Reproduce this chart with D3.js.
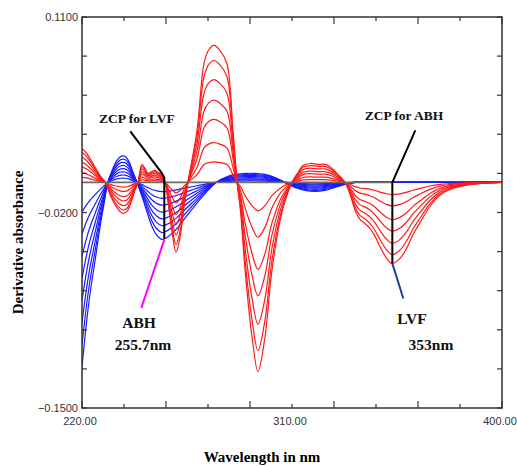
<!DOCTYPE html>
<html>
<head>
<meta charset="utf-8">
<script src="https://cdn.jsdelivr.net/npm/d3@7"></script>
<style>
  body { margin: 0; background: #fff; }
</style>
</head>
<body>
<svg id="chart" width="517" height="466"></svg>
<script>
// LVF (red) first derivative, strongest standard
const lvfNm = [220.0,221.7,223.4,225.6,227.7,229.9,232.0,234.1,236.3,237.6,239.3,241.0,242.7,244.0,245.7,247.0,248.3,250.0,251.3,252.6,253.9,254.7,255.7,256.9,258.6,260.3,262.0,263.7,265.4,269.3,272.3,274.4,276.6,279.1,282.1,284.7,286.5,288.0,289.9,292.9,295.4,298.4,301.4,305.7,310.0,312.6,314.7,317.7,321.1,324.1,326.7,329.7,332.7,334.0,335.7,337.4,339.1,341.3,343.4,345.6,347.7,350.3,352.9,356.3,359.3,361.9,364.9,369.1,373.4,377.7,384.1,390.6,400.0]
const lvfDA = [0.0226,0.0199,0.0160,0.0100,0.0047,0,-0.0080,-0.0146,-0.0193,-0.0206,-0.0193,-0.0133,-0.0053,0,0.0120,0.0093,0.0060,0.0073,0.0080,0.0066,0.0053,0.0027,0,-0.0133,-0.0332,-0.0465,-0.0366,-0.0166,0,0.0346,0.0791,0.0884,0.0911,0.0878,0.0791,0.0346,0,-0.0199,-0.0585,-0.1031,-0.1257,-0.1031,-0.0585,-0.0199,0,0.0066,0.0113,0.0126,0.0120,0.0120,0.0100,0.0053,0,-0.0040,-0.0120,-0.0199,-0.0246,-0.0273,-0.0306,-0.0359,-0.0426,-0.0499,-0.0539,-0.0505,-0.0432,-0.0346,-0.0266,-0.0160,-0.0086,-0.0047,-0.0020,-0.0007,0]
// relative amplitude of each LVF standard
const lvfLevels = [0.15, 0.29, 0.46, 0.60, 0.75, 0.89, 1.0]

// ABH (blue) first derivative, strongest standard
const abhNm = [220.0,221.7,223.4,225.6,227.7,229.4,231.1,232.9,235.0,236.7,238.4,240.1,241.9,243.6,245.7,247.9,250.0,252.1,254.3,256.4,258.6,261.1,264.1,267.1,270.6,274.0,277.4,281.3,285.6,289.9,294.1,298.4,302.7,307.0,311.3,315.6,319.9,324.1,328.4,332.7,337.0,350.0,400.0]
const abhDA = [-0.1230,-0.0964,-0.0745,-0.0519,-0.0299,-0.0146,0,0.0080,0.0146,0.0173,0.0173,0.0140,0.0066,0,-0.0093,-0.0199,-0.0293,-0.0352,-0.0379,-0.0366,-0.0339,-0.0299,-0.0239,-0.0180,-0.0113,-0.0053,0,0.0033,0.0053,0.0060,0.0060,0.0053,0.0033,0,-0.0033,-0.0053,-0.0060,-0.0053,-0.0033,-0.0013,0,0,0]
const abhLevels = [0.16, 0.28, 0.40, 0.52, 0.64, 0.76, 0.88, 1.0]

// axis ticks and labels
const xTicks = [220,238,256,274,292,310,328,346,364,382,400]
const xLabels = [220,310,400]
const yTicks = [0.11,0.084,0.058,0.032,0.006,-0.02,-0.046,-0.072,-0.098,-0.124,-0.15]
const yLabels = [0.11,-0.02,-0.15]

// zero crossing points
const zcpLVF = 255.7, abhAtZcp = -0.0375
const zcpABH = 353, lvfAtZcp = -0.0539

const svg = d3.select("#chart")
const pL = 82, pR = 502, pT = 17, pB = 408

const x = d3.scaleLinear().domain([220, 400]).range([pL, pR])
const y = d3.scaleLinear().domain([-0.15, 0.11]).range([pB, pT])

svg.append("defs").append("clipPath").attr("id", "clip")
  .append("rect").attr("x", pL).attr("y", pT)
  .attr("width", pR - pL).attr("height", pB - pT)

const line = d3.line()
  .x(d => x(d[0]))
  .y(d => y(d[1]))
  .curve(d3.curveCatmullRom.alpha(0.5))

const plot = svg.append("g").attr("clip-path", "url(#clip)")

// blue first, red on top
plot.selectAll("path.abh")
  .data(abhLevels)
  .enter()
  .append("path")
    .attr("class", "abh")
    .attr("d", k => line(abhNm.map((w, i) => [w, abhDA[i] * k])))
    .attr("fill", "none")
    .attr("stroke", "#1a1aff")
    .attr("stroke-width", 1.2)

plot.selectAll("path.lvf")
  .data(lvfLevels)
  .enter()
  .append("path")
    .attr("class", "lvf")
    .attr("d", k => line(lvfNm.map((w, i) => [w, lvfDA[i] * k])))
    .attr("fill", "none")
    .attr("stroke", "#ff1a1a")
    .attr("stroke-width", 1.2)

// zero line up to the ABH zero crossing
svg.append("line")
  .attr("x1", x(220)).attr("x2", x(zcpABH))
  .attr("y1", y(0)).attr("y2", y(0))
  .attr("stroke", "#6b6b6b").attr("stroke-width", 1.6)

// frame
svg.append("rect")
  .attr("x", pL).attr("y", pT)
  .attr("width", pR - pL).attr("height", pB - pT)
  .attr("fill", "none").attr("stroke", "#333").attr("stroke-width", 1.5)

// inward ticks
xTicks.forEach((t, i) => {
  const len = i % 2 ? 4 : 7
  svg.append("line").attr("x1", x(t)).attr("x2", x(t)).attr("y1", pB).attr("y2", pB - len)
    .attr("stroke", "#333").attr("stroke-width", 1.2)
  svg.append("line").attr("x1", x(t)).attr("x2", x(t)).attr("y1", pT).attr("y2", pT + len)
    .attr("stroke", "#333").attr("stroke-width", 1.2)
})
yTicks.forEach((t, i) => {
  const len = 5
  svg.append("line").attr("x1", pL).attr("x2", pL + len).attr("y1", y(t)).attr("y2", y(t))
    .attr("stroke", "#333").attr("stroke-width", 1.2)
  svg.append("line").attr("x1", pR).attr("x2", pR - len).attr("y1", y(t)).attr("y2", y(t))
    .attr("stroke", "#333").attr("stroke-width", 1.2)
})

// tick labels
svg.selectAll("text.xl")
  .data(xLabels)
  .enter()
  .append("text")
    .attr("class", "xl")
    .attr("x", d => x(d) - 2)
    .attr("y", pB + 17)
    .attr("text-anchor", "middle")
    .style("font-family", "Liberation Sans, Arial, sans-serif")
    .style("font-size", "11px")
    .style("fill", "#333")
    .text(d => d3.format(".2f")(d))

svg.selectAll("text.yl")
  .data(yLabels)
  .enter()
  .append("text")
    .attr("class", "yl")
    .attr("x", pL - 4)
    .attr("y", d => y(d) + 4)
    .attr("text-anchor", "end")
    .style("font-family", "Liberation Sans, Arial, sans-serif")
    .style("font-size", "11px")
    .style("fill", "#333")
    .text(d => d3.format(".4f")(d))

// axis titles
svg.append("text")
  .attr("transform", "translate(23," + ((pT + pB) / 2 + 30) + ") rotate(-90)")
  .attr("text-anchor", "middle")
  .style("font-family", "Liberation Serif, Times New Roman, serif")
  .style("font-weight", "bold")
  .style("font-size", "15px")
  .text("Derivative absorbance")

svg.append("text")
  .attr("x", 262)
  .attr("y", 462)
  .attr("text-anchor", "middle")
  .style("font-family", "Liberation Serif, Times New Roman, serif")
  .style("font-weight", "bold")
  .style("font-size", "15px")
  .text("Wavelength in nm")

// annotations
const ann = svg.append("g")
const x1 = x(zcpLVF), y0 = y(0), x2 = x(zcpABH)

ann.append("path")
  .attr("d", d3.line()([[x1 - 35, y0 - 51], [x1 - 4, y0 - 10], [x1 - 1, y0 - 5], [x1 - 1, y(abhAtZcp)]]))
  .attr("fill", "none").attr("stroke", "#000").attr("stroke-width", 2)

ann.append("line")
  .attr("x1", x1 - 1).attr("y1", y(abhAtZcp) + 1)
  .attr("x2", x1 - 24).attr("y2", y(abhAtZcp) + 69)
  .attr("stroke", "#ff00ff").attr("stroke-width", 2)

ann.append("path")
  .attr("d", d3.line()([[x2 + 23, y0 - 52], [x2, y0], [x2, y(lvfAtZcp)]]))
  .attr("fill", "none").attr("stroke", "#000").attr("stroke-width", 2)

ann.append("line")
  .attr("x1", x2).attr("y1", y(lvfAtZcp))
  .attr("x2", x2 + 11).attr("y2", y(lvfAtZcp) + 35)
  .attr("stroke", "#1f3f8f").attr("stroke-width", 2)

const notes = [
  { t: "ZCP for LVF", x: 137, y: 123, s: 13.5 },
  { t: "ZCP for ABH", x: 404, y: 120, s: 13.5 },
  { t: "ABH", x: 139, y: 328, s: 15.5 },
  { t: "255.7nm", x: 143, y: 350, s: 15.5 },
  { t: "LVF", x: 412, y: 324, s: 15.5 },
  { t: "353nm", x: 431, y: 350, s: 15.5 }
]
ann.selectAll("text")
  .data(notes)
  .enter()
  .append("text")
    .attr("x", d => d.x)
    .attr("y", d => d.y)
    .attr("text-anchor", "middle")
    .style("font-family", "Liberation Serif, Times New Roman, serif")
    .style("font-weight", "bold")
    .style("font-size", d => d.s + "px")
    .style("fill", "#111")
    .text(d => d.t)
</script>
</body>
</html>
